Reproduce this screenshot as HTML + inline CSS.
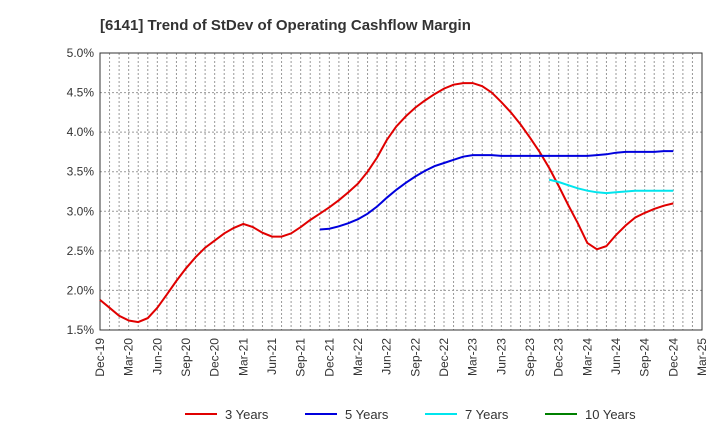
<!DOCTYPE html>
<html><head><meta charset="utf-8"><style>
body{margin:0;background:#fff;font-family:"Liberation Sans",sans-serif;}
svg text{font-family:"Liberation Sans",sans-serif;}
</style></head><body>
<svg id="c" width="720" height="440">
<text x="100" y="30" font-size="15" font-weight="bold" fill="#333">[6141]  Trend of StDev of Operating Cashflow Margin</text>
</svg>
<script>
const xLabels=["Dec-19","Mar-20","Jun-20","Sep-20","Dec-20","Mar-21","Jun-21","Sep-21","Dec-21","Mar-22","Jun-22","Sep-22","Dec-22","Mar-23","Jun-23","Sep-23","Dec-23","Mar-24","Jun-24","Sep-24","Dec-24","Mar-25"];
const yTicks=[1.5,2.0,2.5,3.0,3.5,4.0,4.5,5.0];
const s3=[1.88,1.78,1.68,1.62,1.60,1.65,1.78,1.95,2.12,2.28,2.42,2.54,2.63,2.72,2.79,2.84,2.80,2.73,2.68,2.68,2.72,2.80,2.89,2.97,3.05,3.14,3.24,3.35,3.50,3.68,3.90,4.07,4.20,4.31,4.40,4.48,4.55,4.60,4.62,4.62,4.58,4.50,4.38,4.25,4.10,3.93,3.75,3.55,3.32,3.08,2.85,2.60,2.52,2.56,2.70,2.82,2.92,2.98,3.03,3.07,3.10];
const s3Start=0;
const s5=[2.77,2.78,2.81,2.85,2.90,2.97,3.06,3.17,3.27,3.36,3.44,3.51,3.57,3.61,3.65,3.69,3.71,3.71,3.71,3.70,3.70,3.70,3.70,3.70,3.70,3.70,3.70,3.70,3.70,3.71,3.72,3.74,3.75,3.75,3.75,3.75,3.76,3.76];
const s5Start=23;
const s7=[3.40,3.37,3.33,3.29,3.26,3.24,3.23,3.24,3.25,3.26,3.26,3.26,3.26,3.26];
const s7Start=47;
const L=100,R=702,T=53,B=330,ymin=1.5,ymax=5.0;
const nMonths=(xLabels.length-1)*3;
const xs=i=>L+(R-L)*i/nMonths;
const ys=v=>B-(B-T)*(v-ymin)/(ymax-ymin);
const svg=document.getElementById('c');
const NS="http://www.w3.org/2000/svg";
function mk(t,a){const e=document.createElementNS(NS,t);for(const k in a)e.setAttribute(k,a[k]);svg.appendChild(e);return e;}
yTicks.forEach(v=>{
 const g=mk('line',{x1:L,x2:R,y1:ys(v),y2:ys(v),stroke:'#999','stroke-dasharray':'2,2','stroke-width':1});
 
 
 const t=mk('text',{x:L-6,y:ys(v)+4,'text-anchor':'end','font-size':12,fill:'#333'});
 t.textContent=v.toFixed(1)+'%';
 
 
});
for(let m=0;m<=nMonths;m++){
 const g=mk('line',{x1:xs(m),x2:xs(m),y1:T,y2:B,stroke:'#999','stroke-dasharray':'2,2','stroke-width':1});
 
 
}
xLabels.forEach((lb,i)=>{
 const x=xs(i*3);
 const t=mk('text',{x:x+4,y:B+8,'text-anchor':'end','font-size':12,fill:'#333',transform:`rotate(-90 ${x+4} ${B+8})`});
 t.textContent=lb;
 
 
});
const fr=mk('rect',{x:L,y:T,width:R-L,height:B-T,fill:'none',stroke:'#333'});


function series(arr,start,color,name){
 const p=arr.map((v,i)=>xs(start+i).toFixed(1)+','+ys(v).toFixed(1)).join(' ');
 const l=mk('polyline',{points:p,fill:'none',stroke:color,'stroke-width':2});
 
 
}
series(s3,s3Start,'#e00000','line-3-years');
series(s5,s5Start,'#0000dd','line-5-years');
series(s7,s7Start,'#00e5ee','line-7-years');
const leg=[['3 Years','#e00000',185],['5 Years','#0000dd',305],['7 Years','#00e5ee',425],['10 Years','#008000',545]];
leg.forEach(([n,c,x])=>{
 const l=mk('line',{x1:x,x2:x+32,y1:414,y2:414,stroke:c,'stroke-width':2});
 
 
 const t=mk('text',{x:x+40,y:419,'font-size':13,fill:'#333'});
 t.textContent=n;
 
 
});
</script>
</body></html>
